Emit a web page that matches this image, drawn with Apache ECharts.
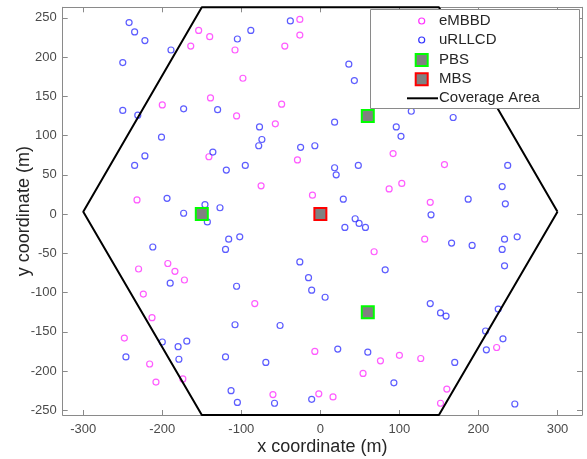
<!DOCTYPE html>
<html><head><meta charset="utf-8">
<script src="https://cdn.jsdelivr.net/npm/echarts@6/dist/echarts.min.js"></script>
<style>html,body{margin:0;padding:0;background:#fff}#c{width:587px;height:459px}</style>
</head><body><div id="c"></div>
<script>
const xTicks = [-300, -200, -100, 0, 100, 200, 300];
const yTicks = [-250, -200, -150, -100, -50, 0, 50, 100, 150, 200, 250];
const legendNames = ['eMBBD', 'uRLLCD', 'PBS', 'MBS', 'Coverage Area'];

const embbX = [-164, -154, -200, -140, -108, -26, -26, -45, -98, -139, -106, -49, -57, -141, -29, 92,
  -232, -230, -193, -184, -172, -224, -75, -10, 87, 68, 157, 103, 139, 132,
  -213, -248, -216, -208, -174, -83, -7, 76, 54, -60, -2, 16, 223, 100, 127, 160, 152];
const embbY = [214, 234, 139, 226, 209, 248, 228, 214, 173, 148, 125, 140, 115, 73, 69, 77,
  18, -70, -63, -73, -84, -102, 36, 24, 32, -48, 63, 39, 15, -32,
  -132, -158, -191, -214, -210, -114, -175, -187, -203, -230, -229, -233, -170, -180, -184, -223, -241];

const urllcX = [-242, -235, -222, -189, -250, -250, -231, -173, -201, -222,
  -105, -88, -38, 36, 43, -130, -77, -74, -78, -25, -7, 18, -136,
  115, 168, 96, 102,
  -235, -194, -173, -212, -190,
  -119, -95, 18, 20, 48, 29, -146, -127, -143, 44, 49, 31, 57, -116, -102, -120, -26, 82, -15, -106, -11, 6,
  237, 230, 187, 234, 140, 166, 192, 233, 249, 230, 233,
  -200, -180, -169, -246, -179,
  -108, -51, 22, 60, -120, -69, -113, -105, -58, -11,
  139, 152, 159, 225, 209, 231, 210, 170, 93, 246];
const urllcY = [244, 232, 221, 209, 193, 132, 126, 134, 98, 74,
  223, 234, 246, 191, 170, 133, 111, 95, 87, 85, 87, 117, 79,
  131, 123, 111, 99,
  62, 20, 1, -42, -88,
  56, 62, 59, 50, 62, 19, 12, 8, -10, -6, -12, -17, -17, -32, -29, -45, -61, -71, -81, -92, -97, -106,
  62, 35, 19, 13, -1, -37, -40, -32, -29, -45, -66,
  -163, -169, -162, -182, -185,
  -141, -142, -172, -176, -182, -189, -225, -240, -241, -236,
  -114, -126, -130, -121, -149, -159, -173, -189, -215, -242];

const pbsX = [60, -150, 60];
const pbsY = [125, 0, -125];
const mbsX = [0];
const mbsY = [0];

const hexX = [300, 150, -150, -300, -150, 150, 300];
const hexY = [3, 263.4, 263.4, 3, -256, -256, 3];

const zip = (a, b) => a.map((v, i) => [v, b[i]]);
const FONT = '"Liberation Sans", Arial, Helvetica, sans-serif';
const AX = '#8a8a8a';

const chart = echarts.init(document.getElementById('c'), null, {renderer: 'canvas'});

function xAx(pos, main) {
  return {
    type: 'value', min: -326, max: 331, position: pos,
    axisLine: {show: true, onZero: false, lineStyle: {color: AX, width: 1}},
    axisTick: {show: true, inside: true, length: 5, customValues: xTicks, lineStyle: {color: AX, width: 1}},
    axisLabel: main ? {show: true, customValues: xTicks, margin: 8, fontSize: 13, color: '#4a4a4a', fontFamily: FONT} : {show: false},
    splitLine: {show: false},
    name: main ? 'x coordinate (m)' : '', nameLocation: 'middle', nameGap: 23, nameMoveOverlap: false,
    nameTextStyle: {fontSize: 18, color: '#262626', fontFamily: FONT}
  };
}
function yAx(pos, main) {
  return {
    type: 'value', min: -256, max: 263.4, position: pos,
    axisLine: {show: true, onZero: false, lineStyle: {color: AX, width: 1}},
    axisTick: {show: true, inside: true, length: 5, customValues: yTicks, lineStyle: {color: AX, width: 1}},
    axisLabel: main ? {show: true, customValues: yTicks, margin: 6, fontSize: 13, color: '#4a4a4a', fontFamily: FONT} : {show: false},
    splitLine: {show: false},
    name: main ? 'y coordinate (m)' : '', nameLocation: 'middle', nameGap: 30, nameMoveOverlap: false,
    nameTextStyle: {fontSize: 18, color: '#262626', fontFamily: FONT}
  };
}

const legendY = [21, 40, 60, 79.3, 98.3];
const graphics = [
  {type: 'rect', z: 100, shape: {x: 370.5, y: 9.5, width: 209, height: 99}, style: {fill: '#fff', stroke: AX, lineWidth: 1}},
  {type: 'circle', z: 101, shape: {cx: 421.7, cy: legendY[0], r: 3}, style: {fill: 'none', stroke: '#ff33ff', lineWidth: 1.2}},
  {type: 'circle', z: 101, shape: {cx: 421.7, cy: legendY[1], r: 3}, style: {fill: 'none', stroke: '#3333ff', lineWidth: 1.2}},
  {type: 'rect', z: 101, shape: {x: 415.7, y: legendY[2] - 6, width: 12, height: 12}, style: {fill: '#808080', stroke: '#00ff00', lineWidth: 2}},
  {type: 'rect', z: 101, shape: {x: 415.7, y: legendY[3] - 6, width: 12, height: 12}, style: {fill: '#808080', stroke: '#ff0000', lineWidth: 2}},
  {type: 'line', z: 101, shape: {x1: 407, y1: legendY[4], x2: 438, y2: legendY[4]}, style: {stroke: '#000', lineWidth: 2}}
];
legendNames.forEach((n, i) => {
  graphics.push({type: 'text', z: 101, x: 439, y: legendY[i],
    style: {text: n, fontSize: 15, fontFamily: FONT, fill: '#262626', align: 'left', verticalAlign: 'middle'}});
});

chart.setOption({
  animation: false,
  backgroundColor: '#fff',
  grid: {left: 62.7, right: 5, top: 7.3, bottom: 44, containLabel: false, outerBoundsMode: 'none'},
  xAxis: [xAx('bottom', true), xAx('top', false)],
  yAxis: [yAx('left', true), yAx('right', false)],
  series: [
    {name: 'eMBBD', type: 'scatter', data: zip(embbX, embbY), symbol: 'circle', symbolSize: 6,
      itemStyle: {color: 'rgba(0,0,0,0)', borderColor: '#ff33ff', borderWidth: 1.2}, z: 3},
    {name: 'uRLLCD', type: 'scatter', data: zip(urllcX, urllcY), symbol: 'circle', symbolSize: 6,
      itemStyle: {color: 'rgba(0,0,0,0)', borderColor: '#3333ff', borderWidth: 1.2}, z: 3},
    {name: 'Coverage Area', type: 'line', data: zip(hexX, hexY), symbol: 'none', clip: false,
      lineStyle: {color: '#000', width: 2}, z: 4},
    {name: 'PBS', type: 'scatter', data: zip(pbsX, pbsY), symbol: 'rect', symbolSize: 12,
      itemStyle: {color: '#808080', borderColor: '#00ff00', borderWidth: 2, opacity: 1}, z: 5},
    {name: 'MBS', type: 'scatter', data: zip(mbsX, mbsY), symbol: 'rect', symbolSize: 12,
      itemStyle: {color: '#808080', borderColor: '#ff0000', borderWidth: 2, opacity: 1}, z: 5}
  ],
  graphic: graphics
});
</script>
</body></html>
